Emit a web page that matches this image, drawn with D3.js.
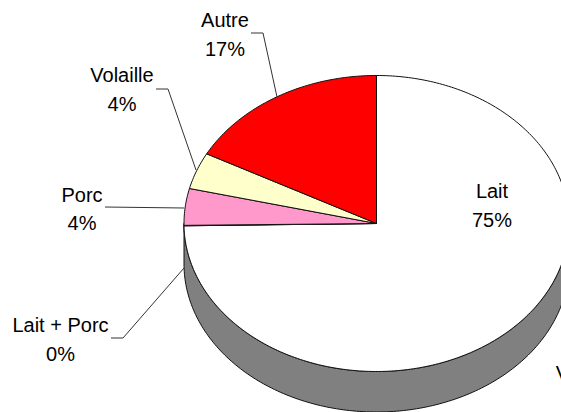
<!DOCTYPE html>
<html><head><meta charset="utf-8">
<script src="https://cdn.jsdelivr.net/npm/d3@7/dist/d3.min.js"></script>
<style>html,body{margin:0;padding:0;background:#fff;overflow:hidden}
text{font-family:"Liberation Sans",Arial,sans-serif;font-size:20px;fill:#000;text-anchor:middle}</style>
</head><body><svg id="c" width="561" height="412"></svg>
<script>
const categories=["Lait","Lait + Porc","Porc","Volaille","Autre"];
const values=[74.75,0.05,4,4,17.2];
const valueLabels=["75%","0%","4%","4%","17%"];
const colors=["#ffffff","#808080","#ff99cc","#ffffcc","#ff0000"];
const W=561,H=412,cx=376.5,cy=223.5,rx=192.5,ry=148,depth=40.5;
const svg=d3.select("#c");
const pie=d3.pie().sort(null).value(d=>d)(values);
const px=a=>cx+rx*Math.sin(a), py=a=>cy-ry*Math.cos(a);
const stroke="#111";
// side wall
const a0=Math.PI/2,a1=Math.PI*1.5,steps=d3.range(0,181).map(i=>a0+(a1-a0)*i/180);
const wall=steps.map(a=>[px(a),py(a)]).concat(steps.slice().reverse().map(a=>[px(a),py(a)+depth]));
svg.append("path").attr("d",d3.line()(wall)+"Z").attr("fill","#808080").attr("stroke",stroke).attr("stroke-width",1);
// top slices
pie.forEach((s,i)=>{
  const n=Math.max(2,Math.ceil((s.endAngle-s.startAngle)*60));
  const pts=d3.range(n+1).map(k=>{const a=s.startAngle+(s.endAngle-s.startAngle)*k/n;return [px(a),py(a)];});
  svg.append("path").attr("d",d3.line()([[cx,cy],...pts])+"Z")
    .attr("fill",colors[i]).attr("stroke",stroke).attr("stroke-width",1).attr("stroke-linejoin","round");
});
// leader lines
const leaders=[[[111,338],[123,338],[184,268]],[[105,207],[184,208]],[[156,89],[168,89],[196,170]],[[251,33],[263,33],[277,97]]];
leaders.forEach(l=>svg.append("path").attr("d",d3.line()(l)).attr("fill","none").attr("stroke","#333").attr("stroke-width",1));
// labels
const labelPos=[[492,198],[60.5,332],[82,202],[122,82],[225,27]];
categories.forEach((c,i)=>{
  const [x,y]=labelPos[i];
  svg.append("text").attr("x",x).attr("y",y).text(c);
  svg.append("text").attr("x",x).attr("y",y+29-(i==2?1:0)).text(valueLabels[i]);
});
svg.append("text").attr("x",562.5).attr("y",380).text("V");
</script></body></html>
